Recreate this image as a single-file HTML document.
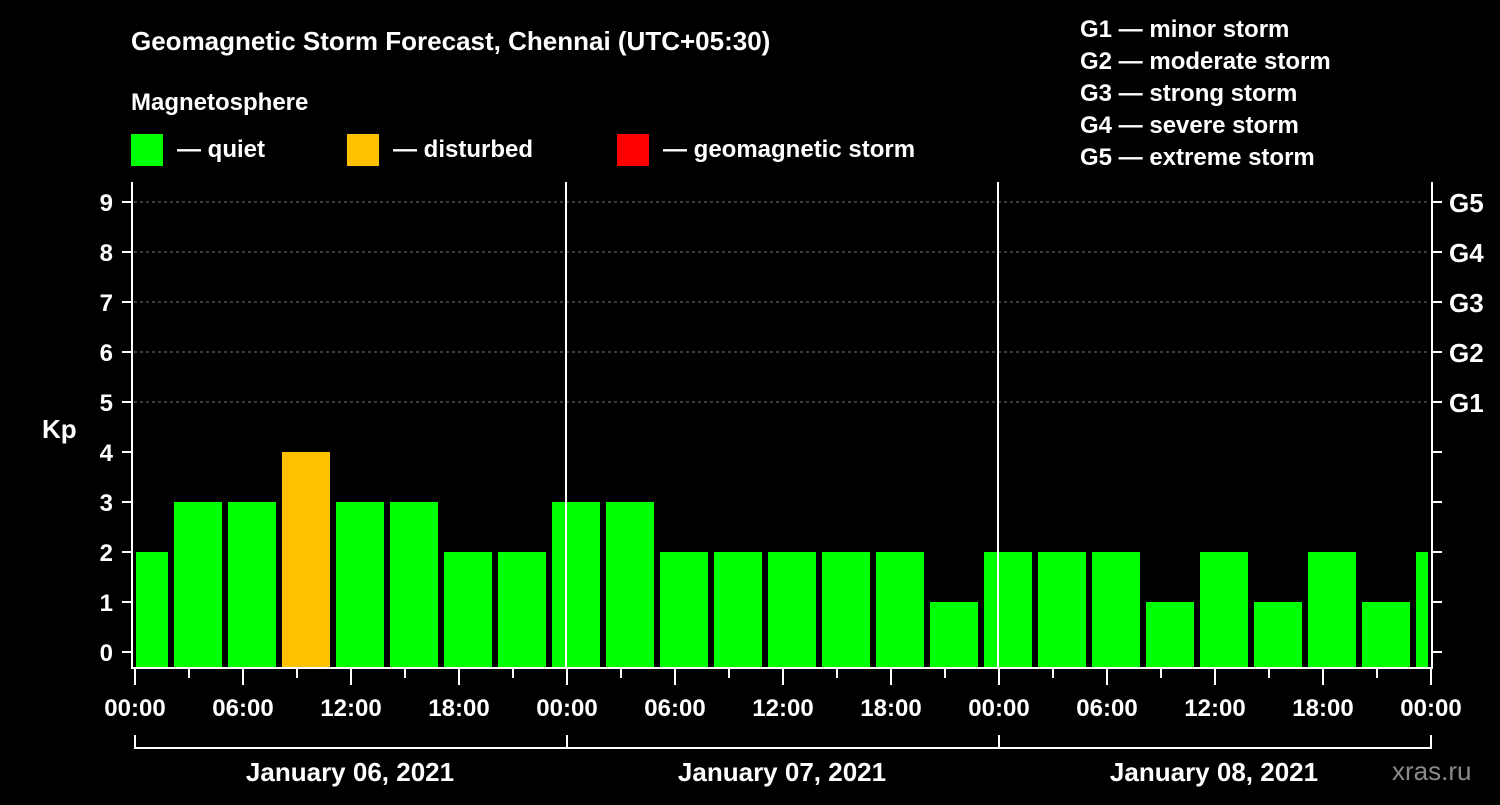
<!DOCTYPE html>
<html><head><meta charset="utf-8"><style>
body{margin:0;background:#000;width:1500px;height:800px;overflow:hidden;font-family:"Liberation Sans",sans-serif}
svg text{font-family:"Liberation Sans",sans-serif;font-weight:bold;fill:#fff}
</style></head><body>
<svg id="c" width="1500" height="800">
<text x="131" y="50" font-size="26">Geomagnetic Storm Forecast, Chennai (UTC+05:30)</text>
<text x="131" y="110" font-size="24">Magnetosphere</text>
<rect x="131" y="134" width="32" height="32" fill="#00ff00"/>
<text x="177" y="157" font-size="24">— quiet</text>
<rect x="347" y="134" width="32" height="32" fill="#ffc000"/>
<text x="393" y="157" font-size="24">— disturbed</text>
<rect x="617" y="134" width="32" height="32" fill="#ff0000"/>
<text x="663" y="157" font-size="24">— geomagnetic storm</text>
<g font-size="24">
<text x="1080" y="37">G1 — minor storm</text>
<text x="1080" y="69">G2 — moderate storm</text>
<text x="1080" y="101">G3 — strong storm</text>
<text x="1080" y="133">G4 — severe storm</text>
<text x="1080" y="165">G5 — extreme storm</text>
</g>
<text x="42" y="438" font-size="26">Kp</text>
<text x="1392" y="780" font-size="26" fill="#888" style="fill:#8a8a8a;font-weight:normal">xras.ru</text>
<g id="plot"></g>
</svg>
<script>
const kpValues=[2,3,3,4,3,3,2,2,3,3,2,2,2,2,2,1,2,2,2,1,2,1,2,1,2];
const yTicks=[0,1,2,3,4,5,6,7,8,9];
const gLabels=["G1","G2","G3","G4","G5"];
const hourLabels=["00:00","06:00","12:00","18:00"];
const dayLabels=["January 06, 2021","January 07, 2021","January 08, 2021"];
const X0=134,X1=1430,HPX=18,BOT=668,TOP=182;
const xs=h=>X0+h*HPX;
const ys=v=>652-50*v;
const NS="http://www.w3.org/2000/svg";
const g=document.getElementById('plot');
function mk(t,a){const e=document.createElementNS(NS,t);for(const k in a)e.setAttribute(k,a[k]);g.appendChild(e);return e;}
yTicks.forEach(v=>{if(v>=5){const l=mk('line',{x1:X0,x2:X1,y1:ys(v),y2:ys(v),stroke:'#777','stroke-dasharray':'3,3','stroke-width':1});

}
const t=mk('line',{x1:122,x2:132,y1:ys(v),y2:ys(v),stroke:'#fff','stroke-width':2});


const t2=mk('line',{x1:1432,x2:1442,y1:ys(v),y2:ys(v),stroke:'#fff','stroke-width':2});


const tx=mk('text',{x:113,y:ys(v)+9,'font-size':24,'text-anchor':'end'});tx.textContent=v;

});
gLabels.forEach((s,i)=>{const tx=mk('text',{x:1449,y:ys(5+i)+10,'font-size':26});tx.textContent=s;

});
kpValues.forEach((v,i)=>{let a=xs(-5.5/1+3*i-1.5+0)+0;a=117+54*i+3;let b=a+48;a=Math.max(a,136);b=Math.min(b,1428);
const r=mk('rect',{x:a,y:ys(v),width:b-a,height:BOT-ys(v),fill:v>=5?'#ff0000':v>=4?'#ffc000':'#00ff00'});

});
[24,48].forEach(h=>{const l=mk('line',{x1:xs(h),x2:xs(h),y1:TOP,y2:BOT,stroke:'#fff','stroke-width':2});

});
const fr=mk('path',{d:`M${X0-2} ${TOP}V${BOT}H${X1+2}V${TOP}`,fill:'none',stroke:'#fff','stroke-width':2});


for(let h=0;h<=72;h+=3){const big=h%6==0;const l=mk('line',{x1:xs(h)+1,x2:xs(h)+1,y1:BOT,y2:big?685:678,stroke:'#fff','stroke-width':2});


if(big){const t=mk('text',{x:xs(h)+1,y:716,'font-size':24,'text-anchor':'middle'});t.textContent=h==72?"00:00":hourLabels[(h%24)/6];

}}
const br=mk('line',{x1:X0,x2:X1,y1:748,y2:748,stroke:'#fff','stroke-width':2});


[0,24,48,72].forEach(h=>{const l=mk('line',{x1:xs(h)+1,x2:xs(h)+1,y1:735,y2:749,stroke:'#fff','stroke-width':2});

});
dayLabels.forEach((s,i)=>{const t=mk('text',{x:xs(24*i+12),y:781,'font-size':26,'text-anchor':'middle'});t.textContent=s;

});
</script>
</body></html>
